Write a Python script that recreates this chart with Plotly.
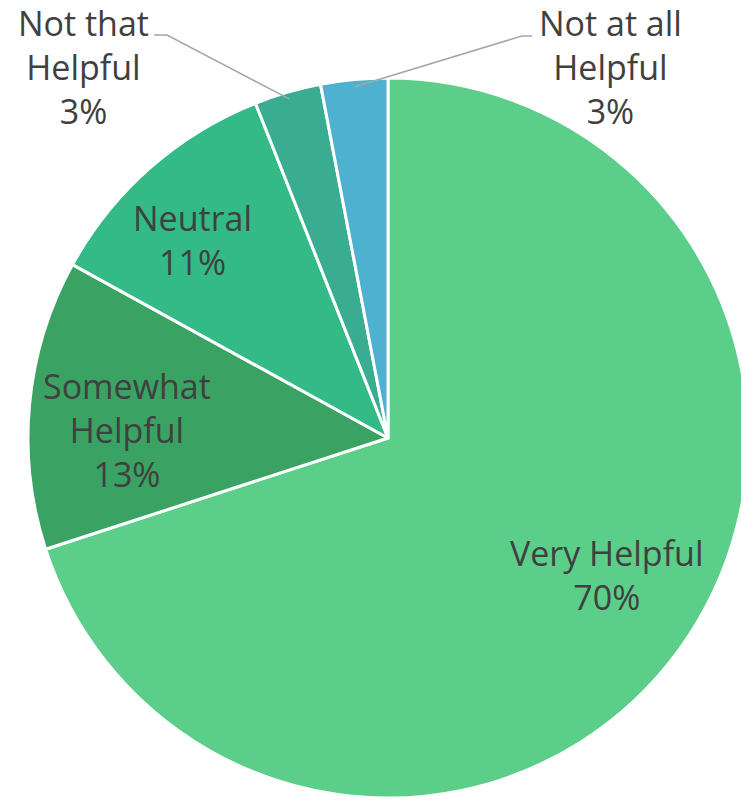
import math
import plotly.graph_objects as go

# Survey responses: how helpful respondents found the service
categories = ["Very Helpful", "Somewhat Helpful", "Neutral", "Not that Helpful", "Not at all Helpful"]
label_text = ["Very Helpful", "Somewhat<br>Helpful", "Neutral", "Not that<br>Helpful", "Not at all<br>Helpful"]
values = [70, 13, 11, 3, 3]
colors = ["#5BCF8A", "#3AA363", "#33BA87", "#3AAC92", "#4DB1CF"]

# Figure geometry (pixels)
W, H = 760, 802
ML, MR, MT, MB = 28, 12, 78, 4
PW, PH = W - ML - MR, H - MT - MB
FONT = "'Open Sans', 'Noto Sans', sans-serif"
FONT_SIZE = 34
TEXT_COLOR = "#404040"
LEADER_COLOR = "#A6A6A6"


def px_to_paper(px, py):
    return (px - ML) / PW, 1 - (py - MT) / PH


def polar_paper(frac, angle_deg):
    # Pie fills a square domain: radius is 0.5 in paper units on both axes
    a = math.radians(angle_deg)
    return 0.5 + 0.5 * frac * math.sin(a), 0.5 + 0.5 * frac * math.cos(a)


total = sum(values)
mid_angles = []
cum = 0
for v in values:
    mid_angles.append((cum + v / 2) / total * 360)
    cum += v
percents = [f"{round(v / total * 100)}%" for v in values]

fig = go.Figure(
    go.Pie(
        labels=categories,
        values=values,
        sort=False,
        direction="clockwise",
        rotation=0,
        marker=dict(colors=colors, line=dict(color="white", width=3)),
        textinfo="none",
        hoverinfo="skip",
        showlegend=False,
        domain=dict(x=[0, 1], y=[0, 1]),
    )
)

annotations = []
shapes = []

# Labels inside the larger slices: (radius fraction, angular nudge in degrees)
inside_place = {0: (0.7175, -4.0), 1: (0.725, -3.6), 2: (0.772, -3.2)}
for i, (r, nudge) in inside_place.items():
    x, y = polar_paper(r, mid_angles[i] + nudge)
    annotations.append(dict(
        x=x, y=y, xref="paper", yref="paper", xanchor="center", yanchor="middle",
        text=f"{label_text[i]}<br>{percents[i]}", showarrow=False,
        font=dict(family=FONT, size=FONT_SIZE, color=TEXT_COLOR),
    ))

# Outside labels with elbow leader lines for the two small slices
outside = {
    3: dict(elbow=(167, 35), end=(154, 35), text_at=(83, 67)),
    4: dict(elbow=(522, 36), end=(532, 36), text_at=(610, 67)),
}
for i, spec in outside.items():
    sx, sy = polar_paper(0.98, mid_angles[i])
    ex, ey = px_to_paper(*spec["elbow"])
    tx, ty = px_to_paper(*spec["end"])
    shapes.append(dict(
        type="path", xref="paper", yref="paper",
        path=f"M {sx} {sy} L {ex} {ey} L {tx} {ty}",
        line=dict(color=LEADER_COLOR, width=1.5),
    ))
    lx, ly = px_to_paper(*spec["text_at"])
    annotations.append(dict(
        x=lx, y=ly, xref="paper", yref="paper", xanchor="center", yanchor="middle",
        text=f"{label_text[i]}<br>{percents[i]}", showarrow=False,
        font=dict(family=FONT, size=FONT_SIZE, color=TEXT_COLOR),
    ))

fig.update_layout(
    width=W, height=H, autosize=False,
    margin=dict(l=ML, r=MR, t=MT, b=MB),
    paper_bgcolor="white", plot_bgcolor="white",
    annotations=annotations, shapes=shapes,
)

fig.write_html("out.html")
